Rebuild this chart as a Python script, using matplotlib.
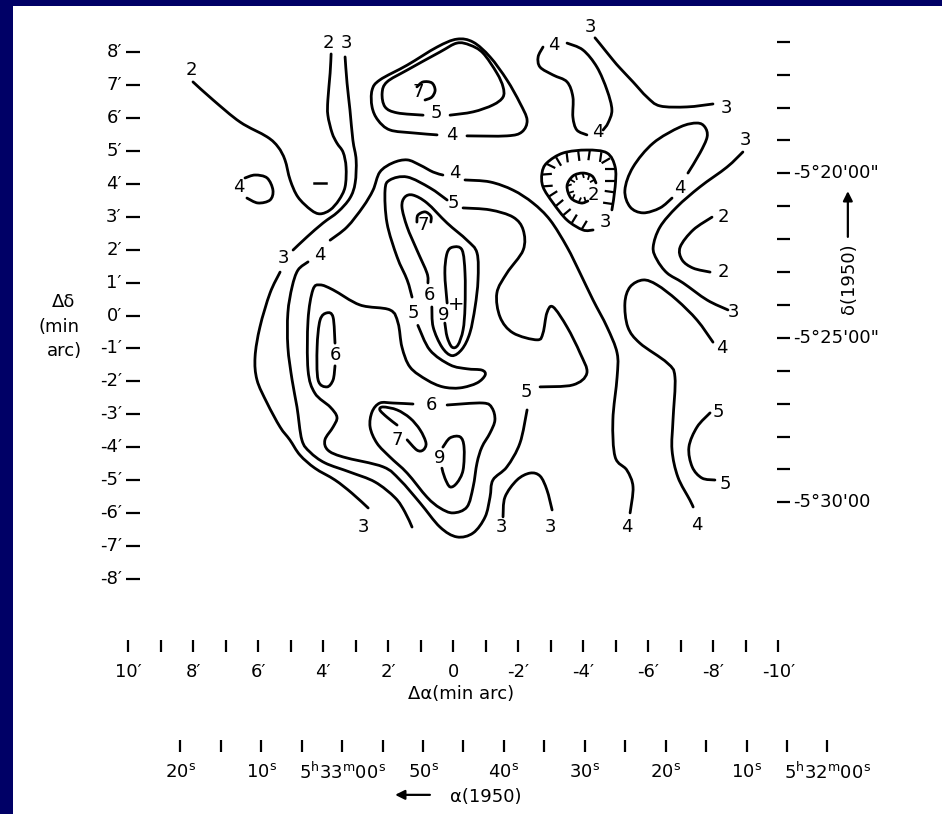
import numpy as np
import matplotlib
matplotlib.use("Agg")
import matplotlib.pyplot as plt
from matplotlib.path import Path
from matplotlib.patches import PathPatch, Rectangle
from matplotlib.collections import LineCollection

plt.rcParams['font.family'] = ['DejaVu Sans']
plt.rcParams['mathtext.fontset'] = 'dejavusans'

# ---------------------------------------------------------------------------
# Contour lines, (delta-alpha, delta-delta) in arcmin from the map centre.
# Each list is one drawn stroke; strokes break where a level label sits.
# ---------------------------------------------------------------------------
contour_2_west = [(8.01, 7.10), (7.39, 6.55), (6.56, 5.88), (5.73, 5.43), (5.39, 5.12),
                  (5.18, 4.73), (5.02, 4.12), (4.78, 3.60), (4.38, 3.21), (4.10, 3.09),
                  (3.79, 3.21), (3.52, 3.51), (3.33, 3.91), (3.30, 4.51), (3.39, 4.96),
                  (3.58, 5.24), (3.73, 5.55), (3.86, 6.09), (3.86, 6.55), (3.79, 7.37),
                  (3.76, 7.95)]
contour_3_west_upper = [(3.33, 7.86), (3.27, 7.07), (3.18, 6.25), (3.09, 5.33), (2.99, 4.73),
                        (3.02, 4.03), (3.18, 3.57), (3.55, 3.15), (4.01, 2.81), (4.50, 2.39),
                        (4.93, 1.99)]
contour_3_west_lower = [(5.33, 1.32), (5.64, 0.68), (5.95, -0.35), (6.10, -1.26), (6.04, -1.96),
                        (5.73, -2.66), (5.33, -3.39), (5.03, -3.78), (4.72, -4.24), (4.26, -4.64),
                        (3.64, -5.00), (3.12, -5.40), (2.62, -5.85)]
contour_4_main_west = [(1.27, -6.43), (1.49, -5.97), (1.79, -5.54), (2.41, -5.06), (3.18, -4.76),
                       (3.95, -4.48), (4.41, -4.15), (4.66, -3.78), (4.81, -2.78), (4.96, -1.96),
                       (5.09, -0.96), (5.09, 0.08), (4.96, 0.87), (4.78, 1.38), (4.47, 1.63)]
contour_4_main_north = [(3.79, 2.29), (3.27, 2.69), (2.78, 3.30), (2.47, 3.81), (2.26, 4.36),
                        (1.86, 4.64), (1.42, 4.73), (1.02, 4.57), (0.62, 4.36), (0.32, 4.27)]
contour_4_main_east = [(-0.36, 4.12), (-1.13, 4.06), (-1.84, 3.81), (-2.45, 3.42), (-2.98, 2.90),
                       (-3.50, 2.08), (-3.90, 1.29), (-4.30, 0.47), (-4.73, -0.35), (-5.04, -1.14),
                       (-5.04, -1.87), (-4.91, -3.18), (-4.98, -4.30), (-5.34, -4.70), (-5.53, -5.21),
                       (-5.44, -6.00)]
contour_5_main_west = [(0.19, 3.51), (0.72, 3.88), (1.42, 4.21), (1.95, 4.12), (2.10, 3.81),
                       (2.04, 2.81), (1.73, 1.78), (1.42, 1.08), (1.27, 0.56)]
contour_5_main_east = [(-0.30, 3.27), (-1.13, 3.21), (-1.84, 2.99), (-2.15, 2.60), (-2.15, 1.99),
                       (-1.65, 1.29), (-1.34, 0.68), (-1.44, -0.05), (-1.84, -0.53), (-2.58, -0.74),
                       (-2.76, -0.53), (-2.88, 0.08), (-3.07, 0.26), (-3.50, -0.35), (-3.90, -1.14),
                       (-4.11, -1.75), (-3.68, -2.11), (-2.67, -2.17)]
contour_5_main_south = [(-2.27, -2.87), (-2.05, -3.88), (-1.65, -4.60), (-1.22, -5.00), (-1.13, -5.52),
                        (-0.98, -6.12), (-0.61, -6.61), (-0.11, -6.73), (0.41, -6.43), (1.02, -5.70),
                        (1.64, -5.00), (2.16, -4.60), (3.39, -4.30), (3.86, -4.09), (3.95, -3.78),
                        (3.70, -3.39), (3.58, -3.09), (3.79, -2.78), (4.26, -2.36), (4.47, -1.66),
                        (4.47, -0.14), (4.32, 0.78), (4.10, 0.93), (3.70, 0.78), (2.87, 0.32),
                        (1.95, 0.17), (1.70, -0.23), (1.58, -0.96), (1.33, -1.57), (0.81, -1.96),
                        (0.32, -2.17), (-0.21, -2.20), (-0.73, -2.05), (-0.98, -1.81), (-0.88, -1.66),
                        (-0.42, -1.62), (0.10, -1.50), (0.72, -1.05), (1.09, -0.30)]
contour_6_west = [(3.64, -1.53), (3.70, -1.96), (3.89, -2.17), (4.16, -1.96), (4.19, -0.96),
                  (4.10, -0.14), (3.89, 0.08), (3.70, -0.05), (3.64, -0.84)]
contour_6_centre = [(0.66, 0.26), (0.62, -0.35), (0.35, -0.96), (0.04, -1.22), (-0.27, -1.02),
                    (-0.51, -0.53), (-0.67, 0.26), (-0.76, 1.08), (-0.73, 1.90), (-0.42, 2.29),
                    (0.19, 2.81), (0.81, 3.42), (1.24, 3.66), (1.49, 3.60), (1.58, 3.30),
                    (1.42, 2.69), (1.12, 1.99), (0.81, 1.29), (0.78, 0.99)]
contour_9_centre = [(0.26, -0.23), (0.19, -0.65), (0.04, -0.96), (-0.14, -0.90), (-0.30, -0.44),
                    (-0.36, 0.26), (-0.36, 1.29), (-0.27, 1.99), (0.01, 2.08), (0.19, 1.90),
                    (0.26, 1.29), (0.19, 0.38)]
contour_6_south = [(0.19, -2.72), (-0.91, -2.66), (-1.19, -2.81), (-1.28, -3.18), (-1.13, -3.57),
                   (-0.88, -4.00), (-0.73, -4.48), (-0.61, -5.21), (-0.42, -5.82), (0.01, -6.00),
                   (0.41, -5.85), (0.81, -5.52), (1.42, -4.79), (1.95, -4.30), (2.35, -3.88),
                   (2.56, -3.39), (2.50, -2.93), (2.26, -2.66), (1.86, -2.66), (1.24, -2.69)]
contour_7_south = [(1.73, -3.33), (2.04, -3.09), (2.26, -2.87), (2.16, -2.78), (1.73, -2.87),
                   (1.33, -3.12), (1.02, -3.48), (0.84, -3.88), (0.93, -4.09), (1.12, -4.09),
                   (1.42, -3.78)]
contour_9_south = [(0.32, -4.00), (0.10, -3.72), (-0.21, -3.69), (-0.33, -4.00), (-0.30, -4.70),
                   (-0.11, -5.09), (0.10, -5.21), (0.26, -4.94), (0.35, -4.64)]
contour_4_north_peak = [(-0.42, 5.46), (-1.65, 5.46), (-2.11, 5.58), (-2.27, 5.94), (-2.05, 6.46),
                        (-1.65, 7.16), (-1.13, 7.86), (-0.61, 8.31), (-0.11, 8.40), (0.50, 8.16),
                        (1.42, 7.61), (2.26, 7.16), (2.50, 6.85), (2.50, 6.34), (2.32, 5.94),
                        (1.95, 5.64), (1.24, 5.55), (0.50, 5.49)]
contour_5_north_peak = [(0.10, 6.09), (-0.61, 6.19), (-1.22, 6.40), (-1.53, 6.64), (-1.53, 6.95),
                        (-1.34, 7.37), (-0.91, 7.98), (-0.51, 8.22), (-0.11, 8.28), (0.41, 8.01),
                        (1.42, 7.46), (2.04, 7.10), (2.19, 6.76), (2.10, 6.34), (1.73, 6.16),
                        (0.93, 6.09)]
curl_7_north = [(1.12, 6.95), (0.93, 7.10), (0.66, 7.07), (0.56, 6.85), (0.66, 6.64), (0.87, 6.55)]
curl_7_centre = [(1.12, 2.84), (1.09, 3.05), (0.87, 3.15), (0.69, 3.02), (0.69, 2.84)]
contour_4_ne_a = [(-3.50, 8.28), (-3.99, 8.07), (-4.42, 7.55), (-4.73, 6.85), (-4.88, 6.25),
                  (-4.76, 5.85), (-4.61, 5.64)]
contour_4_ne_b = [(-2.76, 8.16), (-2.61, 7.86), (-2.67, 7.55), (-3.07, 7.31), (-3.50, 7.10),
                  (-3.68, 6.64), (-3.68, 6.03), (-3.80, 5.64), (-4.11, 5.49)]
contour_3_ne = [(-4.36, 8.44), (-4.51, 8.26), (-4.91, 7.77), (-5.13, 7.52), (-5.53, 7.10),
                (-5.96, 6.64), (-6.36, 6.37), (-7.19, 6.34), (-7.99, 6.43)]
contour_4_east_ellipse = [(-7.22, 4.33), (-7.59, 4.94), (-7.81, 5.43), (-7.74, 5.73), (-7.50, 5.85),
                          (-6.98, 5.73), (-6.15, 5.24), (-5.53, 4.51), (-5.28, 3.81), (-5.44, 3.30),
                          (-5.84, 3.12), (-6.36, 3.27), (-6.73, 3.57)]
contour_3_east = [(-8.91, 4.97), (-8.42, 4.51), (-7.59, 3.91), (-6.88, 3.30), (-6.36, 2.69),
                  (-6.15, 2.08), (-6.27, 1.69), (-6.58, 1.29), (-7.07, 0.99), (-7.81, 0.47),
                  (-8.45, 0.17)]
contour_2_east = [(-7.96, 2.99), (-7.38, 2.60), (-6.98, 2.08), (-7.04, 1.69), (-7.38, 1.44),
                  (-7.90, 1.32)]
contour_4_se = [(-7.99, -0.81), (-7.50, -0.14), (-6.88, 0.47), (-6.27, 0.93), (-5.84, 1.08),
                (-5.44, 0.87), (-5.28, 0.38), (-5.37, -0.35), (-5.74, -0.84), (-6.58, -1.44),
                (-6.82, -1.87), (-6.76, -3.18), (-6.73, -4.09), (-6.91, -4.91), (-7.28, -5.61),
                (-7.38, -5.82)]
contour_5_se = [(-7.90, -2.96), (-7.50, -3.39), (-7.25, -4.00), (-7.35, -4.60), (-7.65, -4.94),
                (-8.05, -5.00)]
contour_3_south = [(-1.53, -6.12), (-1.59, -5.52), (-1.96, -5.00), (-2.36, -4.79), (-2.67, -4.88),
                   (-2.88, -5.30), (-3.04, -5.91)]
contour_4_west_islet = [(6.41, 4.18), (6.10, 4.27), (5.73, 4.18), (5.55, 3.81), (5.64, 3.51),
                        (6.01, 3.42), (6.35, 3.57)]
# closed depression (hachured, ticks point downhill)
contour_3_hollow = [(-4.88, 3.21), (-4.98, 3.91), (-4.98, 4.51), (-4.73, 4.94), (-4.11, 5.03),
                    (-3.38, 4.94), (-2.88, 4.64), (-2.73, 4.33), (-2.76, 3.91), (-3.07, 3.42),
                    (-3.50, 2.90), (-3.99, 2.60), (-4.30, 2.60)]
contour_2_hollow = [(-4.39, 4.03), (-4.27, 4.24), (-3.99, 4.33), (-3.68, 4.24), (-3.50, 3.94),
                    (-3.62, 3.57), (-3.93, 3.42), (-4.14, 3.48)]
west_dash = [(4.28, 4.04), (3.92, 4.04)]

# level labels: text, delta-alpha, delta-delta
label_text = ["2", "2", "3", "3", "4", "3", "4", "5", "5", "6", "7", "6", "9", "5",
              "6", "7", "9", "4", "3", "3", "4", "5", "7", "4", "4", "3", "3",
              "4", "3", "2", "2", "3", "4", "5", "5", "4", "4", "3", "2"]
label_da = [8.05, 3.85, 3.28, 5.22, 4.10, 2.77, -0.05, 0.00, 1.23, 0.72, 0.92, 3.64, 0.30, -2.26,
            0.66, 1.74, 0.41, 6.59, -1.49, -3.00, 0.05, 0.51, 1.08, -3.08, -4.46, -4.21, -8.41,
            -6.98, -8.98, -8.31, -8.31, -8.62, -8.26, -8.15, -8.36, -5.34, -7.49, -4.67, -4.31]
label_dd = [7.46, 8.29, 8.29, 1.74, 1.84, -6.42, 4.32, 3.41, 0.07, 0.62, 2.75, -1.20, 0.02, -2.32,
            -2.72, -3.78, -4.34, 3.92, -6.42, -6.42, 5.49, 6.15, 6.80, 8.22, 5.59, 8.78, 6.30,
            3.87, 5.33, 3.00, 1.33, 0.12, -1.00, -2.92, -5.12, -6.42, -6.37, 2.85, 3.66]
centre_mark = (-0.08, 0.32)

# axis scales
dalpha_ticks = list(range(10, -11, -1))
dalpha_labels = ["10′", "8′", "6′", "4′", "2′", "0", "-2′", "-4′", "-6′", "-8′", "-10′"]
ddelta_ticks = list(range(8, -9, -1))
ddelta_labels = ["8′", "7′", "6′", "5′", "4′", "3′", "2′", "1′", "0′", "-1′", "-2′", "-3′",
                 "-4′", "-5′", "-6′", "-7′", "-8′"]
ra_tick_sec = list(range(80, -1, -5))          # seconds after 5h32m00s (1950)
ra_label_sec = list(range(80, -1, -10))
ra_labels = [r"20$^\mathregular{s}$", r"10$^\mathregular{s}$",
             r"5$^\mathregular{h}$33$^\mathregular{m}$00$^\mathregular{s}$",
             r"50$^\mathregular{s}$", r"40$^\mathregular{s}$", r"30$^\mathregular{s}$",
             r"20$^\mathregular{s}$", r"10$^\mathregular{s}$",
             r"5$^\mathregular{h}$32$^\mathregular{m}$00$^\mathregular{s}$"]
ra_centre_sec = 46.26
dec_deg = -5.4
dec_tick_arcmin = list(range(16, 31))           # arcmin south of -5 deg (1950)
dec_label_arcmin = [20, 25, 30]
dec_labels = ["-5°20'00\"", "-5°25'00\"", "-5°30'00"]
dec_centre_arcmin = 24.32

# ---------------------------------------------------------------------------
W, H = 942, 814
fig = plt.figure(figsize=(W / 100, H / 100), dpi=100)
fig.patch.set_facecolor('white')
ax = fig.add_axes([0, 0, 1, 1])
ax.set_xlim(13.948, -15.037)
ax.set_ylim(-15.152, 9.590)
ax.axis('off')

# navy frame strips
fig.patches.append(Rectangle((0, 1 - 6 / H), 1, 6 / H, transform=fig.transFigure,
                             facecolor='#000066', edgecolor='none', zorder=10))
fig.patches.append(Rectangle((0, 0), 13 / W, 1, transform=fig.transFigure,
                             facecolor='#000066', edgecolor='none', zorder=10))

LW = 2.0
FS = 13


def smooth_path(pts):
    p = np.asarray(pts, float)
    n = len(p)
    verts = [p[0]]
    codes = [Path.MOVETO]
    for i in range(n - 1):
        p0 = p[i - 1] if i > 0 else p[i]
        p1, p2 = p[i], p[i + 1]
        p3 = p[i + 2] if i + 2 < n else p[i + 1]
        verts += [p1 + (p2 - p0) / 6.0, p2 - (p3 - p1) / 6.0, p2]
        codes += [Path.CURVE4] * 3
    return Path(verts, codes)


def hachures(pts, spacing, length):
    p = np.asarray(pts, float)
    seg = np.diff(p, axis=0)
    seg_len = np.hypot(seg[:, 0], seg[:, 1])
    s = np.concatenate([[0.0], np.cumsum(seg_len)])
    centre = p.mean(axis=0)
    out = []
    for d in np.arange(spacing * 0.5, s[-1], spacing):
        i = min(np.searchsorted(s, d) - 1, len(seg) - 1)
        t = (d - s[i]) / seg_len[i]
        pt = p[i] + t * seg[i]
        tan = seg[i] / seg_len[i]
        nrm = np.array([-tan[1], tan[0]])
        if np.dot(centre - pt, nrm) < 0:
            nrm = -nrm
        out.append([pt, pt + length * nrm])
    return out


strokes = [contour_2_west, contour_3_west_upper, contour_3_west_lower, contour_4_main_west,
           contour_4_main_north, contour_4_main_east, contour_5_main_west, contour_5_main_east,
           contour_5_main_south, contour_6_west, contour_6_centre, contour_9_centre,
           contour_6_south, contour_7_south, contour_9_south, contour_4_north_peak,
           contour_5_north_peak, curl_7_north, curl_7_centre, contour_4_ne_a, contour_4_ne_b,
           contour_3_ne, contour_4_east_ellipse, contour_3_east, contour_2_east, contour_4_se,
           contour_5_se, contour_3_south, contour_4_west_islet, contour_3_hollow,
           contour_2_hollow]
for s in strokes:
    ax.add_patch(PathPatch(smooth_path(s), facecolor='none', edgecolor='black', lw=LW,
                           capstyle='round', joinstyle='round'))

ax.add_collection(LineCollection(hachures(contour_3_hollow, 0.36, 0.30), colors='black', lw=1.6))
ax.add_collection(LineCollection(hachures(contour_2_hollow, 0.22, 0.15), colors='black', lw=1.3))
ax.plot(*zip(*west_dash), color='black', lw=1.8)

for t, x, y in zip(label_text, label_da, label_dd):
    ax.text(x, y, t, fontsize=FS, ha='center', va='center')
ax.text(*centre_mark, "+", fontsize=FS + 1, ha='center', va='center')

# delta-delta scale (left)
for v in ddelta_ticks:
    ax.plot([10.07, 9.64], [v, v], color='black', lw=1.6, solid_capstyle='butt')
for v, lab in zip(ddelta_ticks, ddelta_labels):
    ax.text(10.20, v, lab, fontsize=FS, ha='right', va='center')
ax.text(11.98, 0.41, "Δδ", fontsize=FS, ha='center', va='center')
ax.text(12.13, -0.35, "(min", fontsize=FS, ha='center', va='center')
ax.text(11.98, -1.08, "arc)", fontsize=FS, ha='center', va='center')

# delta-alpha scale (bottom)
for v in dalpha_ticks:
    ax.plot([v, v], [-9.86, -10.23], color='black', lw=1.6, solid_capstyle='butt')
for v, lab in zip(dalpha_ticks[::2], dalpha_labels):
    ax.text(v, -10.84, lab, fontsize=FS, ha='center', va='center')
ax.text(-0.24, -11.50, "Δα(min arc)", fontsize=FS, ha='center', va='center')

# right ascension scale (1950)
ra_scale = 15.0 * np.cos(np.radians(dec_deg)) / 60.0   # arcmin per second of time
for sec in ra_tick_sec:
    x = (sec - ra_centre_sec) * ra_scale
    ax.plot([x, x], [-12.90, -13.27], color='black', lw=1.6, solid_capstyle='butt')
for sec, lab in zip(ra_label_sec, ra_labels):
    x = (sec - ra_centre_sec) * ra_scale
    ax.text(x, -13.89, lab, fontsize=FS, ha='center', va='center')
ax.annotate("", xy=(1.79, -14.57), xytext=(0.72, -14.57),
            arrowprops=dict(arrowstyle='-|>', lw=1.6, color='black', mutation_scale=14,
                            shrinkA=0, shrinkB=0))
ax.text(0.10, -14.63, "α(1950)", fontsize=FS, ha='left', va='center')

# declination scale (1950, right)
for d in dec_tick_arcmin:
    y = dec_centre_arcmin - d
    ax.plot([-9.95, -10.36], [y, y], color='black', lw=1.6, solid_capstyle='butt')
for d, lab in zip(dec_label_arcmin, dec_labels):
    ax.text(-10.45, dec_centre_arcmin - d, lab, fontsize=FS, ha='left', va='center')
ax.annotate("", xy=(-12.14, 3.78), xytext=(-12.14, 2.39),
            arrowprops=dict(arrowstyle='-|>', lw=1.6, color='black', mutation_scale=14,
                            shrinkA=0, shrinkB=0))
ax.text(-12.17, 1.12, "δ(1950)", fontsize=FS, ha='center', va='center', rotation=90)

fig.savefig("out.png", dpi=100, facecolor='white')
